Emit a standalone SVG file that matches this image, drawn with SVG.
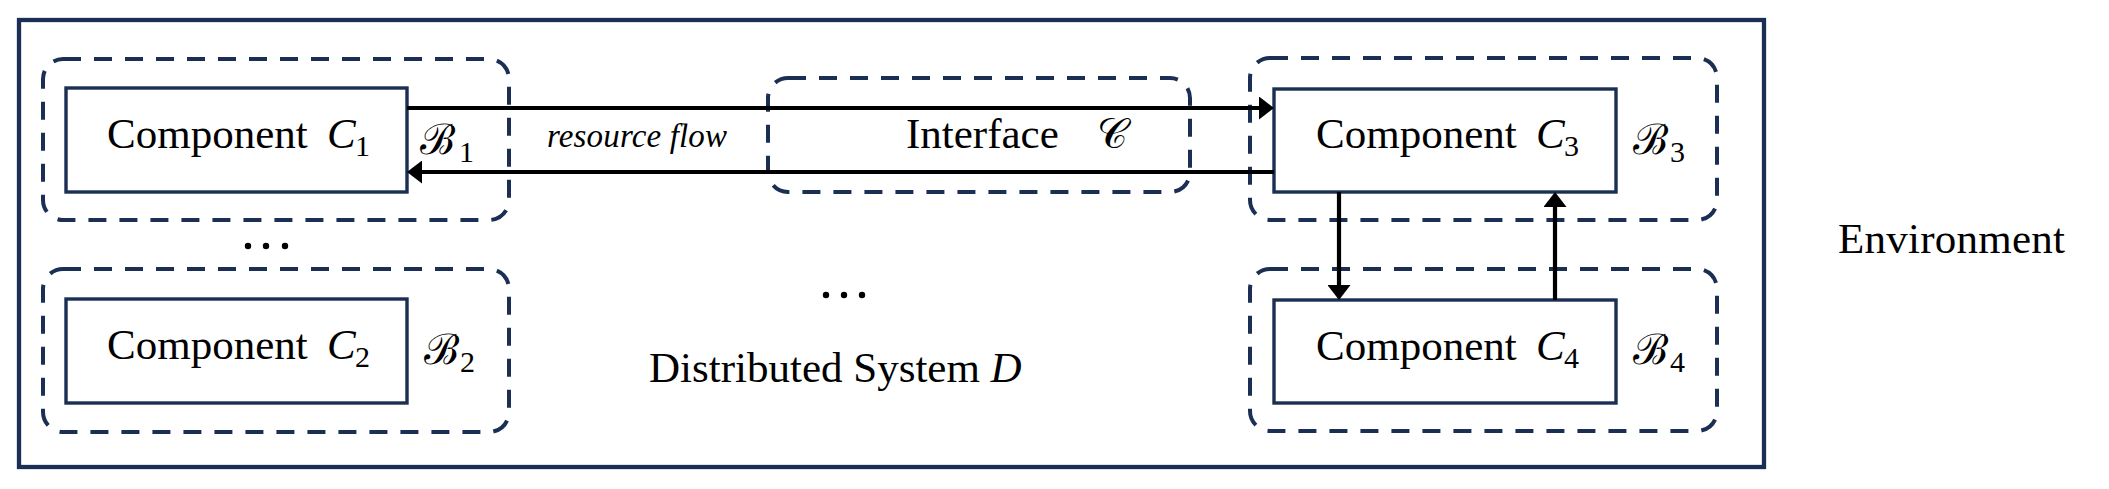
<svg xmlns="http://www.w3.org/2000/svg" width="2109" height="489" viewBox="0 0 2109 489">
<style>
  .outer{fill:none;stroke:#1b2f55;stroke-width:4.3}
  .grp{fill:none;stroke:#1b2f55;stroke-width:4;stroke-dasharray:18 13}
  .box{fill:#fff;stroke:#1b2f55;stroke-width:3.4}
  .t{font-family:"Liberation Serif","Times New Roman",serif;font-size:43px;fill:#000}
  .it{font-style:italic}
  .sub{font-size:30px;font-style:normal}
  .scr{font-family:"Liberation Serif",serif;font-size:42px;fill:#000}
  .arr{fill:none;stroke:#000;stroke-width:4.2}
  .dot{fill:#000}
</style>
<defs>
  <marker id="ah" viewBox="0 0 15 23" refX="5" refY="11.5" markerWidth="15" markerHeight="23" markerUnits="userSpaceOnUse" orient="auto">
    <path d="M0,0 L15,11.5 L0,23 z" fill="#000"/>
  </marker>
</defs>
<rect fill="#fff" x="0" y="0" width="2109" height="489"/>
<g id="system">
  <rect class="outer" x="19" y="20" width="1745" height="447"/>
  <text class="t" x="649" y="382">Distributed System <tspan class="it">D</tspan></text>
</g>
<g id="environment">
  <text class="t" x="1838" y="253" textLength="227">Environment</text>
</g>
<g id="B1">
  <rect class="grp" x="43" y="59" width="466" height="161" rx="20"/>
  <text class="scr" x="420" y="154">ℬ</text><text class="t sub" x="459" y="162">1</text>
</g>
<g id="C1">
  <rect class="box" x="66" y="88" width="341" height="104"/>
  <text class="t" x="107" y="148">Component<tspan class="it" x="327">C</tspan><tspan class="sub" x="355" dy="8">1</tspan></text>
</g>
<g id="B2">
  <rect class="grp" x="43" y="269" width="466" height="163" rx="20"/>
  <text class="scr" x="424" y="364">ℬ</text><text class="t sub" x="460" y="372">2</text>
</g>
<g id="C2">
  <rect class="box" x="66" y="299" width="341" height="104"/>
  <text class="t" x="107" y="359">Component<tspan class="it" x="327">C</tspan><tspan class="sub" x="355" dy="8">2</tspan></text>
</g>
<g id="interface">
  <rect class="grp" x="768" y="78" width="422" height="114" rx="20"/>
  <text class="t" x="906" y="148">Interface</text>
  <text class="scr" x="1097" y="148">𝒞</text>
</g>
<g id="B3">
  <rect class="grp" x="1250" y="58" width="467" height="162" rx="20"/>
  <text class="scr" x="1633" y="154">ℬ</text><text class="t sub" x="1670" y="162">3</text>
</g>
<g id="C3">
  <rect class="box" x="1274" y="89" width="342" height="103"/>
  <text class="t" x="1316" y="148">Component<tspan class="it" x="1536">C</tspan><tspan class="sub" x="1564" dy="8">3</tspan></text>
</g>
<g id="B4">
  <rect class="grp" x="1250" y="269" width="467" height="162" rx="20"/>
  <text class="scr" x="1633" y="364">ℬ</text><text class="t sub" x="1670" y="372">4</text>
</g>
<g id="C4">
  <rect class="box" x="1274" y="300" width="342" height="103"/>
  <text class="t" x="1316" y="360">Component<tspan class="it" x="1536">C</tspan><tspan class="sub" x="1564" dy="8">4</tspan></text>
</g>
<g id="ellipses">
  <circle class="dot" cx="248" cy="246" r="3.2"/><circle class="dot" cx="266" cy="246" r="3.2"/><circle class="dot" cx="285" cy="246" r="3.2"/>
  <circle class="dot" cx="826" cy="295" r="3.2"/><circle class="dot" cx="844" cy="295" r="3.2"/><circle class="dot" cx="862" cy="295" r="3.2"/>
</g>
<g id="connectors">
  <line class="arr" x1="407" y1="108" x2="1264" y2="108" marker-end="url(#ah)"/>
  <line class="arr" x1="1274" y1="172" x2="417" y2="172" marker-end="url(#ah)"/>
  <line class="arr" x1="1339" y1="192" x2="1339" y2="290" marker-end="url(#ah)"/>
  <line class="arr" x1="1555" y1="300" x2="1555" y2="202" marker-end="url(#ah)"/>
  <text class="t it" x="547" y="147" style="font-size:33px" textLength="180">resource flow</text>
</g>
</svg>
